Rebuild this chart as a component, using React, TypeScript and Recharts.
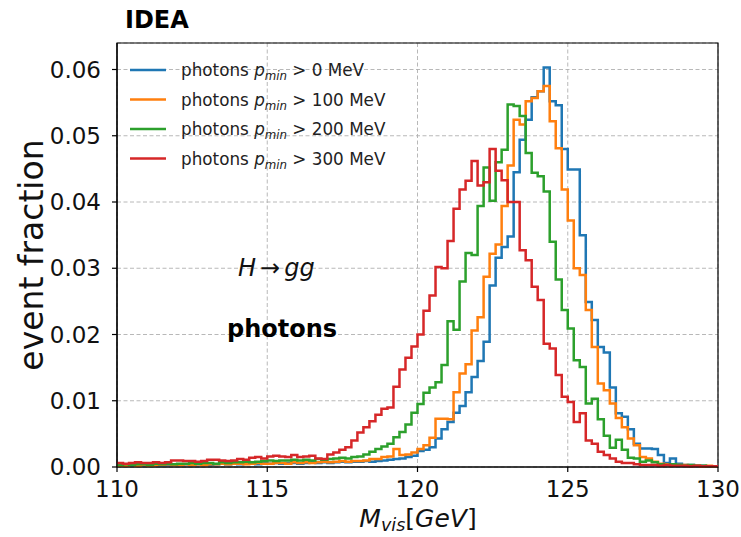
import React from 'react';
import {
  ComposedChart,
  Line,
  XAxis,
  YAxis,
  CartesianGrid,
  ReferenceArea,
  Legend,
  Label,
} from 'recharts';

// ---- binning / axes ----
const BIN_START = 110;
const BIN_WIDTH = 0.2;
const X_TICKS = [110, 115, 120, 125, 130];
const Y_TICKS = [0, 0.01, 0.02, 0.03, 0.04, 0.05, 0.06];

// ---- event fractions per 0.2 GeV bin (110 -> 130 GeV) ----
const P_MIN_0 = [
  0.0002, 0.0003, 0.0002, 0.0003, 0.0002, 0.0003, 0.0003, 0.0002, 0.0003, 0.0004,
  0.0003, 0.0004, 0.0003, 0.0004, 0.0004, 0.0003, 0.0004, 0.0005, 0.0004, 0.0005,
  0.0004, 0.0005, 0.0005, 0.0004, 0.0006, 0.0005, 0.0006, 0.0005, 0.0006, 0.0006,
  0.0005, 0.0006, 0.0007, 0.0006, 0.0007, 0.0006, 0.0007, 0.0008, 0.0007, 0.0008,
  0.0008, 0.0009, 0.0008, 0.0009, 0.0010, 0.0011, 0.0012, 0.0013, 0.0015, 0.0017,
  0.0024, 0.0026, 0.0030, 0.0043, 0.0057, 0.0068, 0.0082, 0.0092, 0.0113, 0.0136,
  0.0160, 0.0189, 0.0274, 0.0316, 0.0332, 0.0348, 0.0445, 0.0494, 0.0524, 0.0558,
  0.0567, 0.0603, 0.0552, 0.0546, 0.0480, 0.0449, 0.0449, 0.0350, 0.0249, 0.0222,
  0.0181, 0.0173, 0.0120, 0.0081, 0.0076, 0.0057, 0.0035, 0.0028, 0.0028, 0.0027,
  0.0018, 0.0006, 0.0013, 0.0005, 0.0003, 0.0003, 0.0002, 0.0002, 0.0001, 0.0001,
];

const P_MIN_100 = [
  0.0002, 0.0002, 0.0003, 0.0002, 0.0003, 0.0002, 0.0003, 0.0003, 0.0004, 0.0003,
  0.0003, 0.0004, 0.0003, 0.0004, 0.0003, 0.0004, 0.0004, 0.0005, 0.0004, 0.0005,
  0.0005, 0.0004, 0.0005, 0.0006, 0.0005, 0.0005, 0.0006, 0.0006, 0.0005, 0.0007,
  0.0006, 0.0007, 0.0006, 0.0007, 0.0008, 0.0007, 0.0008, 0.0009, 0.0008, 0.0009,
  0.0009, 0.0010, 0.0012, 0.0012, 0.0015, 0.0016, 0.0027, 0.0018, 0.0019, 0.0022,
  0.0027, 0.0033, 0.0044, 0.0073, 0.0073, 0.0072, 0.0113, 0.0141, 0.0155, 0.0206,
  0.0226, 0.0287, 0.0322, 0.0336, 0.0394, 0.0455, 0.0524, 0.0517, 0.0552, 0.0557,
  0.0567, 0.0575, 0.0522, 0.0481, 0.0419, 0.0372, 0.0300, 0.0290, 0.0237, 0.0181,
  0.0126, 0.0116, 0.0096, 0.0074, 0.0060, 0.0043, 0.0033, 0.0015, 0.0013, 0.0008,
  0.0005, 0.0004, 0.0004, 0.0003, 0.0003, 0.0002, 0.0002, 0.0001, 0.0002, 0.0001,
];

const P_MIN_200 = [
  0.0003, 0.0004, 0.0003, 0.0004, 0.0004, 0.0003, 0.0005, 0.0004, 0.0005, 0.0004,
  0.0005, 0.0005, 0.0006, 0.0005, 0.0006, 0.0006, 0.0005, 0.0007, 0.0006, 0.0007,
  0.0007, 0.0008, 0.0007, 0.0008, 0.0009, 0.0010, 0.0009, 0.0010, 0.0010, 0.0011,
  0.0010, 0.0011, 0.0010, 0.0012, 0.0011, 0.0012, 0.0013, 0.0014, 0.0013, 0.0015,
  0.0016, 0.0019, 0.0023, 0.0027, 0.0031, 0.0035, 0.0045, 0.0053, 0.0064, 0.0082,
  0.0095, 0.0112, 0.0120, 0.0128, 0.0154, 0.0220, 0.0207, 0.0280, 0.0323, 0.0320,
  0.0394, 0.0452, 0.0402, 0.0460, 0.0479, 0.0547, 0.0545, 0.0530, 0.0474, 0.0444,
  0.0439, 0.0416, 0.0340, 0.0283, 0.0237, 0.0209, 0.0161, 0.0151, 0.0096, 0.0103,
  0.0072, 0.0047, 0.0029, 0.0041, 0.0026, 0.0014, 0.0013, 0.0008, 0.0010, 0.0007,
  0.0004, 0.0003, 0.0004, 0.0003, 0.0002, 0.0003, 0.0002, 0.0002, 0.0001, 0.0001,
];

const P_MIN_300 = [
  0.0006, 0.0005, 0.0006, 0.0007, 0.0006, 0.0006, 0.0007, 0.0006, 0.0007, 0.0010,
  0.0010, 0.0009, 0.0009, 0.0008, 0.0009, 0.0011, 0.0011, 0.0010, 0.0009, 0.0010,
  0.0012, 0.0011, 0.0014, 0.0015, 0.0013, 0.0016, 0.0017, 0.0016, 0.0015, 0.0018,
  0.0015, 0.0016, 0.0017, 0.0013, 0.0012, 0.0019, 0.0022, 0.0026, 0.0030, 0.0040,
  0.0052, 0.0060, 0.0069, 0.0079, 0.0088, 0.0090, 0.0121, 0.0147, 0.0165, 0.0182,
  0.0200, 0.0236, 0.0259, 0.0302, 0.0300, 0.0341, 0.0390, 0.0419, 0.0432, 0.0462,
  0.0425, 0.0430, 0.0480, 0.0447, 0.0433, 0.0400, 0.0400, 0.0327, 0.0312, 0.0272,
  0.0252, 0.0186, 0.0179, 0.0139, 0.0106, 0.0098, 0.0068, 0.0081, 0.0040, 0.0035,
  0.0023, 0.0018, 0.0013, 0.0008, 0.0006, 0.0006, 0.0004, 0.0003, 0.0003, 0.0003,
  0.0002, 0.0003, 0.0002, 0.0002, 0.0002, 0.0001, 0.0002, 0.0001, 0.0001, 0.0001,
];

const SERIES = [
  { key: 'p0', threshold: '0', color: '#1f77b4', values: P_MIN_0 },
  { key: 'p100', threshold: '100', color: '#ff7f0e', values: P_MIN_100 },
  { key: 'p200', threshold: '200', color: '#2ca02c', values: P_MIN_200 },
  { key: 'p300', threshold: '300', color: '#d62728', values: P_MIN_300 },
];

// step rows: one per bin left edge plus the closing right edge
const NBINS = P_MIN_0.length;
const data: Array<Record<string, number>> = [];
for (let i = 0; i <= NBINS; i++) {
  const row: Record<string, number> = {
    m: Number((BIN_START + i * BIN_WIDTH).toFixed(1)),
  };
  SERIES.forEach((s) => {
    row[s.key] = s.values[Math.min(i, NBINS - 1)];
  });
  data.push(row);
}

const FONT = 'DejaVu Sans';

const renderLegend = () => (
  <svg width={420} height={200} style={{ display: 'block' }}>
    {SERIES.map((s, k) => {
      const y = 70 + k * 29.5;
      return (
        <g key={s.key}>
          <line x1={130} x2={166} y1={y} y2={y} stroke={s.color} strokeWidth={2.4} />
          <text x={181} y={y + 6} fontFamily={FONT} fontSize={16.8} fill="#222">
            <tspan>photons </tspan>
            <tspan fontStyle="italic">p</tspan>
            <tspan fontStyle="italic" fontSize={11.8} dy={4}>
              min
            </tspan>
            <tspan dy={-4}>{` > ${s.threshold} MeV`}</tspan>
          </text>
        </g>
      );
    })}
  </svg>
);

const Annotations = () => (
  <g fontFamily={FONT}>
    <text x={125} y={28} fontSize={24} fontWeight="bold" fill="#000">
      IDEA
    </text>
    <text x={238} y={276} fontSize={24} fill="#111">
      <tspan fontStyle="italic">H</tspan>
      <tspan dx={4}>→</tspan>
      <tspan dx={4} fontStyle="italic">gg</tspan>
    </text>
    <text x={227} y={337} fontSize={24} fontWeight="bold" fill="#000">
      photons
    </text>
  </g>
);

const XTitle = () => (
  <text x={418} y={527} textAnchor="middle" fontFamily={FONT} fontSize={25} fill="#111">
    <tspan fontStyle="italic">M</tspan>
    <tspan fontStyle="italic" fontSize={17.5} dy={4}>
      vis
    </tspan>
    <tspan dy={-4}>[</tspan>
    <tspan fontStyle="italic">GeV</tspan>
    <tspan>]</tspan>
  </text>
);

const YTitle = () => (
  <text
    x={43}
    y={255}
    textAnchor="middle"
    transform="rotate(-90 43 255)"
    fontFamily={FONT}
    fontSize={33}
    fill="#111"
  >
    event fraction
  </text>
);

export default function App() {
  return (
    <div style={{ position: 'absolute', left: 0, top: 0, width: 741, height: 537, background: '#fff' }}>
      <ComposedChart
        width={741}
        height={537}
        data={data}
        margin={{ top: 43, right: 23, bottom: 30, left: 0 }}
      >
        <CartesianGrid stroke="#b0b0b0" strokeDasharray="4 2.5" strokeWidth={0.9} />
        <XAxis
          dataKey="m"
          type="number"
          domain={[110, 130]}
          ticks={X_TICKS}
          interval={0}
          height={40}
          tickSize={5}
          tickMargin={9}
          axisLine={{ stroke: '#000', strokeWidth: 1.2 }}
          tickLine={{ stroke: '#000', strokeWidth: 1.2 }}
          tick={{ fill: '#111', fontSize: 23, fontFamily: FONT }}
        >
          <Label content={() => <XTitle />} />
        </XAxis>
        <YAxis
          type="number"
          domain={[0, 0.064]}
          ticks={Y_TICKS}
          interval={0}
          width={117}
          tickSize={5}
          tickMargin={11}
          tickFormatter={(v: number) => v.toFixed(2)}
          axisLine={{ stroke: '#000', strokeWidth: 1.2 }}
          tickLine={{ stroke: '#000', strokeWidth: 1.2 }}
          tick={{ fill: '#111', fontSize: 23, fontFamily: FONT }}
        >
          <Label content={() => <YTitle />} />
        </YAxis>
        {SERIES.map((s) => (
          <Line
            key={s.key}
            dataKey={s.key}
            type="stepAfter"
            stroke={s.color}
            strokeWidth={2.5}
            dot={false}
            activeDot={false}
            isAnimationActive={false}
            legendType="none"
          />
        ))}
        <ReferenceArea
          x1={110}
          x2={130}
          y1={0}
          y2={0.064}
          fill="none"
          fillOpacity={0}
          stroke="#000"
          strokeWidth={1.2}
          ifOverflow="visible"
        >
          <Label content={() => <Annotations />} />
        </ReferenceArea>
        <Legend
          content={renderLegend}
          layout="vertical"
          align="center"
          verticalAlign="middle"
          wrapperStyle={{ left: 0, top: 0, width: 420, height: 200, pointerEvents: 'none' }}
        />
      </ComposedChart>
    </div>
  );
}
